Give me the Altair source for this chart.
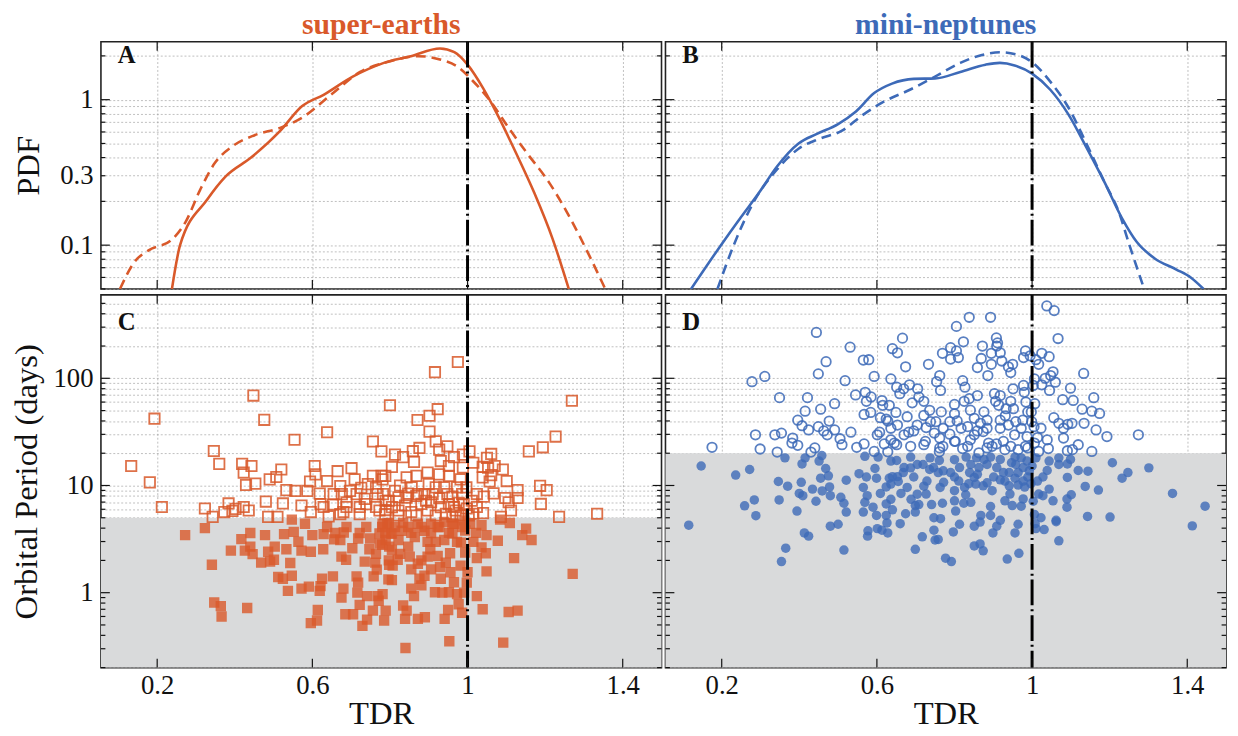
import altair as alt
import pandas as pd

ORANGE = "#D9592A"
BLUE = "#3D6AB8"
GRAY = "#D9DADB"
FONT = "Liberation Serif"

# ---------------- PDF curves (panel A: super-earths) ----------------
se_solid_tdr = [0.238, 0.259, 0.329, 0.376, 0.442, 0.517, 0.573, 0.629, 0.704, 0.779, 0.854, 0.929,
                0.966, 1.0, 1.04, 1.079, 1.125, 1.172, 1.219, 1.261]
se_solid_pdf = [0.05, 0.1, 0.206, 0.296, 0.40, 0.61, 0.90, 1.08, 1.44, 1.77, 1.99, 2.25,
                2.12, 1.74, 1.2, 0.77, 0.43, 0.229, 0.111, 0.05]
se_dash_tdr = [0.104, 0.142, 0.179, 0.236, 0.273, 0.311, 0.348, 0.395, 0.451, 0.517, 0.573, 0.648,
               0.723, 0.798, 0.873, 0.929, 0.975, 1.012, 1.059, 1.106, 1.153, 1.21, 1.266, 1.313, 1.355]
se_dash_pdf = [0.05, 0.077, 0.0925, 0.108, 0.144, 0.241, 0.365, 0.48, 0.57, 0.64, 0.75, 1.08,
               1.55, 1.83, 1.99, 1.89, 1.68, 1.36, 0.975, 0.64, 0.43, 0.27, 0.151, 0.0857, 0.05]

# ---------------- PDF curves (panel B: mini-neptunes) ----------------
mn_solid_tdr = [0.121, 0.198, 0.249, 0.296, 0.342, 0.398, 0.444, 0.5, 0.546, 0.593, 0.639, 0.695,
                0.750, 0.815, 0.880, 0.917, 0.955, 1.0, 1.047, 1.094, 1.140, 1.187, 1.233, 1.27,
                1.316, 1.372, 1.409, 1.442]
mn_solid_pdf = [0.05, 0.1, 0.155, 0.229, 0.346, 0.50, 0.58, 0.68, 0.83, 1.11, 1.29, 1.39,
                1.40, 1.55, 1.74, 1.79, 1.72, 1.51, 1.17, 0.79, 0.47, 0.27, 0.151, 0.105,
                0.081, 0.068, 0.06, 0.05]
mn_dash_tdr = [0.189, 0.231, 0.286, 0.342, 0.398, 0.453, 0.509, 0.565, 0.620, 0.685, 0.750, 0.815,
               0.871, 0.917, 0.964, 1.0, 1.047, 1.094, 1.140, 1.187, 1.224, 1.251, 1.289]
mn_dash_pdf = [0.05, 0.1, 0.206, 0.33, 0.46, 0.54, 0.61, 0.79, 0.975, 1.17, 1.44, 1.79,
               2.03, 2.12, 2.03, 1.81, 1.33, 0.88, 0.50, 0.27, 0.168, 0.1, 0.05]

# ---------------- Scatter (panel C: super-earths) ----------------
se_open = [
    (0.133, 15.2), (0.181, 10.7), (0.193, 42), (0.212, 6.3), (0.323, 6.1), (0.343, 5.1), (0.346, 21),
    (0.360, 15.9), (0.373, 5.65), (0.384, 6.8), (0.394, 5.8), (0.402, 6.05), (0.419, 15.9), (0.423, 13.2),
    (0.429, 10.1), (0.443, 15.2), (0.448, 69), (0.453, 10.4), (0.423, 6.3), (0.436, 5.85), (0.476, 41),
    (0.480, 7.08), (0.486, 5.1), (0.490, 11.4), (0.507, 12), (0.510, 5.1), (0.520, 14.1), (0.524, 6.8),
    (0.533, 9.05), (0.554, 26.7), (0.556, 8.9), (0.572, 6.5), (0.587, 8.9), (0.594, 10.9), (0.606, 15.2),
    (0.608, 12.7), (0.596, 5.65), (0.619, 8.4), (0.638, 31.4), (0.638, 11), (0.621, 6.7), (0.642, 5.15),
    (0.653, 6.64), (0.665, 13.6), (0.672, 9.9), (0.676, 8.3), (0.680, 5.65), (0.688, 6.97), (0.701, 14.5),
    (0.709, 11.4), (0.714, 8.3), (0.722, 6.3), (0.726, 9.5), (0.735, 7.5), (0.743, 10.3), (0.756, 25.7),
    (0.756, 12.3), (0.768, 8.3), (0.773, 5.85), (0.778, 20.8), (0.781, 11.4), (0.789, 7.2), (0.800, 56),
    (0.975, 142), (0.916, 114), (0.923, 51.5), (0.902, 44.7), (0.871, 40.8), (0.902, 31.8), (0.918, 25.8),
    (0.927, 21.6), (0.948, 23.2), (0.931, 16.9), (0.876, 22.4), (0.859, 20.9), (0.813, 19.4), (0.834, 18.4),
    (0.862, 16.6), (0.805, 14.9), (0.965, 18.4), (0.988, 19.4), (1.005, 20.8), (1.015, 16.3), (0.988, 14.7),
    (0.952, 15.2), (0.897, 13.2), (0.927, 12.7), (0.868, 12.3), (0.843, 11.9), (0.788, 12.3), (0.982, 11.4),
    (0.952, 12.3), (0.900, 10.3), (1.039, 14.9), (1.050, 18.1), (1.061, 19.7), (1.053, 14.7), (1.070, 15.2),
    (1.091, 14.1), (1.061, 12.5), (1.039, 11.9), (1.057, 10.9), (1.101, 11.0), (1.158, 20.8), (1.194, 22.7),
    (1.227, 28.6), (1.269, 61.8), (1.187, 9.93), (1.204, 9.06), (1.129, 9.06), (1.129, 7.64), (1.189, 6.73),
    (1.097, 7.64), (1.106, 6.97), (1.112, 5.85), (1.067, 8.44), (1.042, 7.87), (1.024, 8.32), (1.040, 5.52),
    (1.086, 5.1), (1.236, 5.1), (1.334, 5.45), (0.997, 9.6), (0.986, 8.3), (0.973, 9.6), (0.961, 7.87),
    (0.94, 9.6), (0.918, 9.6), (0.889, 8.3), (0.868, 8.0), (0.847, 8.4), (0.822, 7.76), (0.797, 7.2),
    (0.881, 6.73), (0.906, 6.97), (0.931, 6.28), (0.969, 5.85), (0.990, 6.73), (1.015, 5.45), (0.822, 5.85),
    (0.855, 5.65), (0.897, 5.85), (0.944, 5.45), (0.805, 6.28), (0.839, 6.5), (0.982, 5.26),
    (0.778, 12.3), (0.782, 8.3), (0.813, 8.9), (0.826, 10.0), (0.843, 7.7), (0.856, 9.6), (0.872, 8.3),
    (0.893, 7.2), (0.910, 8.3), (0.927, 7.6), (0.948, 8.3), (0.952, 6.7), (0.965, 6.3), (0.977, 6.9),
    (0.998, 6.1), (1.011, 7.2), (1.024, 6.3), (0.788, 5.4), (0.822, 5.25), (0.868, 5.25), (0.918, 5.25),
    (0.961, 5.15), (1.003, 5.26), (0.629, 6.3), (0.688, 6.3), (0.739, 6.7), (0.764, 6.3), (0.789, 5.9),
    (0.672, 5.4), (0.722, 5.4), (0.655, 8.3), (0.697, 8.9), (0.764, 9.5),
]
se_filled = [
    (0.272, 3.44), (0.323, 4.0), (0.341, 1.82), (0.347, 0.81), (0.364, 0.75), (0.366, 0.60), (0.390, 2.47),
    (0.417, 3.16), (0.426, 2.47), (0.432, 0.72), (0.440, 3.6), (0.440, 2.69), (0.446, 2.29), (0.468, 1.91),
    (0.478, 3.44), (0.486, 2.41), (0.491, 1.95), (0.503, 2.69), (0.501, 2.03), (0.512, 1.40), (0.524, 1.35),
    (0.527, 3.52), (0.533, 2.54), (0.537, 1.04), (0.543, 1.89), (0.547, 1.44), (0.547, 4.8), (0.552, 3.69),
    (0.564, 2.99), (0.572, 2.47), (0.572, 1.09), (0.581, 4.4), (0.591, 1.14), (0.596, 2.41), (0.596, 0.52),
    (0.600, 3.44), (0.612, 0.55), (0.614, 0.69), (0.619, 1.04), (0.621, 1.15), (0.625, 1.35), (0.628, 2.54),
    (0.629, 3.52), (0.653, 1.42), (0.656, 3.14), (0.659, 3.6), (0.675, 2.17), (0.675, 0.90), (0.680, 1.09),
    (0.681, 3.64), (0.687, 2.03), (0.685, 0.63), (0.705, 0.63), (0.703, 2.6), (0.714, 1.42), (0.716, 1.0),
    (0.718, 1.24), (0.718, 3.2), (0.722, 0.77), (0.729, 0.49), (0.735, 1.95), (0.741, 0.93), (0.741, 0.56),
    (0.747, 2.54), (0.749, 3.2), (0.756, 0.68), (0.758, 1.42), (0.762, 1.91), (0.766, 1.64), (0.768, 0.93),
    (0.771, 0.84), (0.773, 3.57), (0.774, 2.88), (0.781, 0.97), (0.785, 0.55), (0.789, 0.68), (0.793, 4.4),
    (0.796, 1.33), (0.798, 1.82), (0.798, 2.69), (0.802, 3.57),
    (0.840, 0.305), (0.953, 0.352), (1.092, 0.342), (1.039, 0.70), (1.106, 0.66), (1.129, 0.68), (1.271, 1.5),
    (1.120, 2.1), (1.049, 1.58), (1.024, 0.93), (0.998, 1.24), (1.0, 1.55), (1.078, 3.05), (1.141, 3.44),
    (1.165, 3.1), (1.151, 3.96), (1.109, 4.47), (1.084, 4.8), (1.049, 3.44), (1.036, 2.65), (1.047, 2.33),
    (1.024, 2.1), (1.015, 2.98), (1.036, 4.26), (1.022, 3.61), (0.994, 2.37), (0.982, 1.79), (0.983, 2.93),
    (0.986, 4.1), (0.966, 4.4), (0.973, 2.98), (0.955, 2.33), (0.956, 1.55), (0.944, 1.91), (0.952, 3.61),
    (0.940, 4.57), (0.923, 4.1), (0.918, 2.98), (0.904, 2.54), (0.897, 2.17), (0.929, 1.73), (0.916, 1.01),
    (0.935, 1.0), (0.952, 1.01), (0.973, 0.97), (0.991, 1.0), (0.977, 0.78), (0.986, 0.65), (0.950, 0.69),
    (0.941, 0.57), (0.890, 0.59), (0.872, 0.57), (0.839, 0.57), (0.843, 0.68), (0.834, 0.76), (0.855, 1.09),
    (0.862, 0.93), (0.881, 1.17), (0.876, 1.35), (0.889, 1.44), (0.872, 1.86), (0.851, 2.17), (0.820, 2.03),
    (0.807, 1.79), (0.805, 1.31), (0.847, 2.69), (0.805, 2.5), (0.897, 2.98), (0.889, 3.78), (0.855, 3.61),
    (0.830, 3.78), (0.805, 3.57), (0.797, 4.47), (0.834, 4.47), (0.872, 4.4), (0.906, 4.4), (0.961, 3.57),
    (0.992, 4.73),
    (0.780, 4.1), (0.788, 3.6), (0.813, 4.1), (0.822, 3.1), (0.847, 4.1), (0.864, 3.3), (0.881, 4.1),
    (0.906, 3.6), (0.927, 4.1), (0.940, 3.1), (0.961, 4.4), (0.994, 3.8), (1.007, 4.4), (0.780, 2.8),
    (0.797, 2.0), (0.826, 2.3), (0.855, 1.65), (0.881, 2.0), (0.906, 1.65), (0.931, 1.35), (0.965, 1.25),
    (0.923, 2.2), (0.638, 4.1), (0.688, 4.1), (0.739, 4.1), (0.781, 4.4), (0.672, 3.1), (0.722, 3.6),
    (0.764, 2.3), (0.789, 3.1),
]

# ---------------- Scatter (panel D: mini-neptunes) ----------------
mn_open = [
    (0.175, 22.7), (0.278, 93), (0.311, 104), (0.349, 66), (0.287, 29.7), (0.299, 21.9), (0.337, 29.7),
    (0.354, 30.8), (0.343, 20.5), (0.383, 27.7), (0.381, 24.9), (0.396, 23.7), (0.396, 40.7), (0.407, 36.1),
    (0.415, 49.3), (0.421, 66), (0.424, 33), (0.444, 268), (0.449, 110), (0.455, 51.5), (0.449, 35.4),
    (0.463, 32.3), (0.469, 143), (0.472, 29.7), (0.477, 39.9), (0.491, 58), (0.491, 33), (0.44, 22.4),
    (0.43, 20.5), (0.505, 27.3), (0.51, 24), (0.518, 95), (0.531, 195), (0.533, 31.4), (0.545, 70),
    (0.548, 22.7), (0.565, 148), (0.579, 149), (0.570, 74), (0.573, 61), (0.585, 67), (0.567, 46),
    (0.584, 48), (0.567, 24.4), (0.593, 104), (0.593, 20.8), (0.601, 29.7), (0.607, 31.4), (0.609, 42.9),
    (0.613, 62), (0.615, 56), (0.624, 41.7), (0.628, 39.9), (0.632, 56), (0.619, 24.4), (0.628, 20.6),
    (0.636, 98.6), (0.640, 189), (0.653, 173), (0.666, 237), (0.674, 128), (0.651, 82.6), (0.659, 71.8),
    (0.669, 79.8), (0.684, 86.9), (0.649, 48), (0.636, 26.7), (0.645, 24.9), (0.651, 24), (0.678, 43.8),
    (0.682, 31.4), (0.695, 32.3), (0.687, 23.2), (0.691, 59), (0.705, 79.8), (0.708, 67), (0.721, 61),
    (0.727, 34.7), (0.725, 25.8), (0.721, 45), (0.733, 135), (0.736, 50.3), (0.748, 30.8), (0.754, 93),
    (0.752, 39.4), (0.762, 106), (0.764, 77), (0.766, 48.6), (0.769, 171), (0.762, 27.7), (0.770, 23.2),
    (0.761, 20.6),
    (1.038, 473), (1.057, 428), (1.067, 235), (0.838, 371), (0.893, 371), (0.805, 305), (0.823, 219),
    (0.790, 193), (0.805, 180), (0.790, 151), (0.810, 156), (0.872, 200), (0.869, 153), (0.895, 171),
    (0.908, 238), (0.911, 214), (0.909, 200), (0.918, 173), (0.922, 145), (0.895, 135), (0.859, 126),
    (0.886, 106), (0.939, 128), (0.945, 113), (0.950, 135), (0.983, 180), (0.978, 156), (0.995, 162),
    (1.010, 149), (1.017, 135), (1.025, 171), (1.044, 159), (1.006, 98.6), (1.003, 85.8), (1.025, 86.9),
    (1.048, 106), (1.054, 115), (1.060, 91.9), (1.045, 77), (1.034, 100), (1.079, 63.2), (1.099, 80.9),
    (1.106, 62.2), (1.133, 111), (1.129, 51.5), (1.159, 65.9), (1.154, 49.3), (1.174, 47), (1.056, 42.9),
    (1.069, 38), (1.081, 34.2), (1.092, 37.2), (1.103, 38), (1.134, 38), (1.165, 33), (1.193, 28.6),
    (1.274, 29.7), (1.081, 27.7), (1.119, 24), (1.104, 21.6), (1.091, 21.1), (1.154, 20.8), (1.039, 26.7),
    (1.042, 22.1), (1.023, 34.2), (1.014, 28), (0.978, 85.8), (0.980, 74), (0.984, 60), (1.007, 58),
    (0.998, 48.6), (0.945, 61), (0.952, 52), (0.933, 52), (0.931, 44.7), (0.918, 40.7), (0.906, 61),
    (0.903, 71.8), (0.914, 56), (0.958, 39.4), (0.976, 40.7), (0.999, 39.4), (1.005, 35.4), (0.987, 28.6),
    (0.955, 29.7), (0.926, 25.8), (0.908, 24.4), (0.888, 24.9), (0.874, 31.8), (0.884, 40.7), (0.867, 38),
    (0.851, 42.3), (0.841, 50.4), (0.838, 64.6), (0.825, 61), (0.827, 82.6), (0.821, 95), (0.800, 57),
    (0.788, 39.4), (0.807, 40), (0.841, 26.7), (0.859, 32.3), (0.897, 23.2), (0.863, 20.2), (0.930, 21.6),
    (0.964, 21.6), (0.821, 22.1), (0.788, 30.1), (0.802, 25.8), (0.834, 35.4), (0.983, 23.2), (1.006, 24.9),
    (1.017, 20.8),
    (0.800, 46.6), (0.817, 34.2), (0.851, 29.7), (0.884, 34.2), (0.918, 34.2), (0.939, 36.6), (0.972, 34.2),
    (0.989, 48.6), (0.876, 48.6), (0.918, 69), (0.951, 79.8), (0.859, 69), (0.800, 25.8), (0.834, 23.2),
    (0.884, 22.4), (0.945, 23.2), (0.989, 22.4), (0.636, 34.2), (0.670, 29.7), (0.704, 36.6), (0.738, 39.4),
    (0.771, 34.2), (0.721, 24), (0.762, 22.4), (0.653, 36.6),
]
mn_filled = [
    (0.115, 4.26), (0.147, 15.2), (0.236, 12.5), (0.272, 14.1), (0.259, 6.46), (0.284, 7.33), (0.288, 5.23),
    (0.346, 10.9), (0.348, 7.33), (0.354, 1.95), (0.365, 2.6), (0.363, 18.1), (0.370, 9.86), (0.394, 5.77),
    (0.400, 8.44), (0.405, 10.7), (0.407, 15.9), (0.409, 8.03), (0.413, 3.61), (0.424, 3.37), (0.415, 18.1),
    (0.434, 9.25), (0.443, 7.13), (0.451, 16.9), (0.458, 19.0), (0.455, 11.7), (0.468, 14.4), (0.475, 12.3),
    (0.478, 9.7), (0.480, 8.03), (0.459, 8.9), (0.480, 4.17), (0.500, 4.35), (0.507, 7.76), (0.515, 6.83),
    (0.521, 11.2), (0.521, 5.65), (0.515, 2.5), (0.554, 12.9), (0.565, 9.59), (0.569, 18.7), (0.573, 12),
    (0.575, 8.03), (0.569, 6.97), (0.565, 5.65), (0.577, 3.78), (0.576, 3.37), (0.590, 6.28), (0.595, 14.4),
    (0.599, 11.7), (0.599, 5.26), (0.603, 18.4), (0.601, 3.96), (0.609, 8.44), (0.613, 3.83), (0.624, 9.7),
    (0.624, 6.73), (0.624, 5.26), (0.626, 4.47), (0.628, 3.61), (0.632, 11.7), (0.636, 7.43), (0.640, 12.1),
    (0.640, 5.93), (0.651, 17.1), (0.653, 12.1), (0.655, 10.9), (0.660, 4.4), (0.662, 8.44), (0.668, 13.2),
    (0.674, 5.45), (0.687, 18.4), (0.687, 14.6), (0.688, 7.43), (0.695, 12), (0.699, 6.5), (0.699, 5.65),
    (0.699, 2.54), (0.708, 6.64), (0.717, 3.32), (0.719, 15.7), (0.721, 9.86), (0.727, 8.32), (0.736, 14.1),
    (0.737, 18.1), (0.741, 6.64), (0.747, 5.0), (0.747, 3.83), (0.750, 3.1), (0.758, 3.14), (0.758, 13.2),
    (0.761, 17.1), (0.764, 4.9), (0.769, 6.83), (0.772, 10.7), (0.777, 2.1),
    (1.207, 16.3), (1.247, 13.2), (1.232, 11.7), (1.301, 14.6), (1.362, 8.44), (1.446, 6.41), (1.413, 4.2),
    (1.201, 5.07), (1.171, 9.06), (1.143, 5.15), (1.144, 13.6), (1.119, 13.8), (1.137, 9.8), (1.101, 8.2),
    (1.090, 7.48), (1.090, 6.28), (1.091, 11.9), (1.069, 18.1), (1.069, 15.7), (1.091, 15.9), (1.099, 17.5),
    (1.044, 16.9), (1.039, 13.8), (1.028, 12), (1.014, 11), (1.044, 9.25), (1.028, 8.03), (1.017, 8.32),
    (1.054, 7.2), (1.003, 7.13), (1.006, 5.37), (1.023, 5.0), (1.062, 4.73), (1.062, 4.6), (1.008, 4.4),
    (1.010, 3.96), (1.031, 3.88), (1.069, 3.05), (0.966, 2.33), (0.936, 2.06), (0.972, 6.41), (0.956, 3.61),
    (0.964, 4.35), (0.949, 6.5), (0.943, 8.32), (0.930, 7.2), (0.918, 4.73), (0.909, 4.17), (0.899, 3.61),
    (0.893, 5.26), (0.893, 6.37), (0.897, 8.94), (0.874, 2.46), (0.866, 2.85), (0.851, 2.73), (0.868, 5.26),
    (0.866, 4.56), (0.851, 4.17), (0.842, 6.97), (0.829, 8.2), (0.824, 6.83), (0.803, 5.77), (0.813, 4.35),
    (0.797, 3.69), (0.792, 1.95), (0.800, 8.94), (0.811, 11), (0.800, 12), (0.790, 13.2), (0.813, 14.7),
    (0.830, 18.4), (0.857, 18.1), (0.863, 14.7), (0.859, 12.7), (0.855, 10.3), (0.874, 9.93), (0.837, 10.4),
    (0.884, 15.7), (0.901, 12), (0.918, 17.5), (0.926, 13.2), (0.930, 11), (0.941, 9.93), (0.941, 13.2),
    (0.958, 15.7), (0.964, 13.2), (0.977, 14.7), (0.987, 16.9), (0.989, 12), (0.964, 10.1), (0.981, 9.66),
    (0.997, 10.4), (1.0, 15.2), (0.977, 7.5), (0.956, 18.4), (1.010, 18.1), (0.839, 13.2), (0.893, 18.4),
    (0.800, 17.4), (0.842, 15.7), (0.876, 17.5), (0.909, 14.7), (0.947, 16.3), (0.972, 18.1), (0.993, 13.7),
    (0.851, 11.9), (0.884, 10.6), (0.918, 11.3), (0.956, 11.7), (0.977, 11.0), (0.826, 9.6), (0.800, 7.2),
    (0.636, 16.9), (0.670, 14.7), (0.704, 15.7), (0.746, 14.7), (0.771, 13.7), (0.636, 10.3), (0.678, 9.6),
    (0.729, 11.0), (0.763, 9.6), (0.704, 8.3),
]

# Period thresholds for the shaded (grey) region
se_cut = 5
mn_cut = 20

# ---------------- tick / grid values ----------------
top_major = [0.1, 1]
top_minor = [0.05, 0.06, 0.07, 0.08, 0.09, 0.2, 0.3, 0.4, 0.5, 0.6, 0.7, 0.8, 0.9, 2]
bot_major = [1, 10, 100]
bot_minor = [0.2, 0.3, 0.4, 0.5, 0.6, 0.7, 0.8, 0.9, 2, 3, 4, 5, 6, 7, 8, 9,
             20, 30, 40, 50, 60, 70, 80, 90, 200, 300, 400, 500]
x_vals = [0.2, 0.6, 1.0, 1.4]

# ---------------- layout / scales ----------------
W = 567
H_TOP = 250
H_BOT = 377
MAJ = 9
MIN = 4.5

xs = alt.Scale(domain=[0.055, 1.5], nice=False, zero=False)
ys_top = alt.Scale(type="log", domain=[0.05, 2.5], nice=False)
ys_bot = alt.Scale(type="log", domain=[0.2, 600], nice=False)

GRID = dict(grid=True, gridColor="#9a9a9a", gridDash=[2, 2], gridWidth=0.8, gridOpacity=0.8,
            domain=False, ticks=False)

x_axis_bottom = alt.Axis(values=x_vals, title="TDR", labelPadding=5, titlePadding=0,
                         labelExpr="datum.value == 1 ? '1' : format(datum.value, '.1f')", **GRID)
x_axis_none = alt.Axis(values=x_vals, labels=False, title=None, **GRID)

top_all = sorted(top_major + top_minor)
bot_all = sorted(bot_major + bot_minor)
y_axis_top_left = alt.Axis(values=top_all, title="PDF", labelPadding=8, titlePadding=14,
                           labelExpr="datum.value == 0.1 ? '0.1' : datum.value == 0.3 ? '0.3' : datum.value == 1 ? '1' : ''",
                           **GRID)
y_axis_bot_left = alt.Axis(values=bot_all, title="Orbital Period (days)", labelPadding=8, titlePadding=10,
                           labelExpr="datum.value == 1 ? '1' : datum.value == 10 ? '10' : datum.value == 100 ? '100' : ''",
                           **GRID)
y_axis_top_none = alt.Axis(values=top_all, labels=False, title=None, **GRID)
y_axis_bot_none = alt.Axis(values=bot_all, labels=False, title=None, **GRID)


def tick_layers(ys, yaxis, xaxis, majors, minors, height):
    """Inward ticks on all four edges, placed through the chart's scales."""
    layers = []
    rule = dict(color="#111", strokeWidth=1.2)
    for vals, ln in ((majors, MAJ), (minors, MIN)):
        d = pd.DataFrame({"v": vals})
        yenc = alt.Y("v:Q", scale=ys, axis=yaxis)
        layers.append(alt.Chart(d).mark_rule(**rule).encode(y=yenc, x=alt.value(0), x2=alt.value(ln)))
        layers.append(alt.Chart(d).mark_rule(**rule).encode(y=yenc, x=alt.value(W), x2=alt.value(W - ln)))
    dx = pd.DataFrame({"v": x_vals})
    xenc = alt.X("v:Q", scale=xs, axis=xaxis)
    layers.append(alt.Chart(dx).mark_rule(**rule).encode(x=xenc, y=alt.value(height), y2=alt.value(height - MAJ)))
    layers.append(alt.Chart(dx).mark_rule(**rule).encode(x=xenc, y=alt.value(0), y2=alt.value(MAJ)))
    return layers


def vline(xaxis, height):
    df = pd.DataFrame({"x": [1.0]})
    return alt.Chart(df).mark_rule(color="black", strokeWidth=3, strokeDash=[26, 4, 2, 4]).encode(
        x=alt.X("x:Q", scale=xs, axis=xaxis),
        y=alt.value(0), y2=alt.value(height),
    )


def letter(ch, ypix):
    df = pd.DataFrame({"t": [ch]})
    return alt.Chart(df).mark_text(font=FONT, fontSize=25, fontWeight="bold", color="#111",
                                   align="left", baseline="middle").encode(
        x=alt.value(17), y=alt.value(ypix), text="t:N")


def pdf_panel(solid_x, solid_y, dash_x, dash_y, color, yaxis, ch, title):
    d_solid = pd.DataFrame({"tdr": solid_x, "pdf": solid_y})
    d_dash = pd.DataFrame({"tdr": dash_x, "pdf": dash_y})
    enc = dict(x=alt.X("tdr:Q", scale=xs, axis=x_axis_none),
               y=alt.Y("pdf:Q", scale=ys_top, axis=yaxis))
    solid = alt.Chart(d_solid).mark_line(color=color, strokeWidth=2.6, interpolate="monotone",
                                         clip=True).encode(**enc)
    dash = alt.Chart(d_dash).mark_line(color=color, strokeWidth=2.6, strokeDash=[10, 6],
                                       interpolate="monotone", clip=True).encode(**enc)
    layers = [dash, solid, vline(x_axis_none, H_TOP), letter(ch, 13)]
    layers += tick_layers(ys_top, yaxis, x_axis_none, top_major, top_minor, H_TOP)
    return alt.layer(*layers).properties(
        width=W, height=H_TOP,
        title=alt.TitleParams(title, color=color, font=FONT, fontSize=30, fontWeight="bold",
                              anchor="middle", offset=0))


def scatter_panel(open_pts, filled_pts, cut, color, shape, size, yaxis, ch):
    d_open = pd.DataFrame(open_pts, columns=["tdr", "period"])
    d_fill = pd.DataFrame(filled_pts, columns=["tdr", "period"])
    d_band = pd.DataFrame({"lo": [0.2], "hi": [cut]})
    xe = alt.X("tdr:Q", scale=xs, axis=x_axis_bottom)
    ye = alt.Y("period:Q", scale=ys_bot, axis=yaxis)
    band = alt.Chart(d_band).mark_rect(color=GRAY).encode(
        x=alt.value(0), x2=alt.value(W),
        y=alt.Y("hi:Q", scale=ys_bot, axis=yaxis), y2="lo:Q")
    filled = alt.Chart(d_fill).mark_point(shape=shape, filled=True, size=size, color=color,
                                          opacity=0.8, clip=True).encode(x=xe, y=ye)
    opn = alt.Chart(d_open).mark_point(shape=shape, filled=False, size=size, color=color,
                                       strokeWidth=1.8, opacity=0.85, clip=True).encode(x=xe, y=ye)
    layers = [band, filled, opn, vline(x_axis_bottom, H_BOT), letter(ch, 28)]
    layers += tick_layers(ys_bot, yaxis, x_axis_bottom, bot_major, bot_minor, H_BOT)
    return alt.layer(*layers).properties(width=W, height=H_BOT)


A = pdf_panel(se_solid_tdr, se_solid_pdf, se_dash_tdr, se_dash_pdf, ORANGE, y_axis_top_left, "A",
              "super-earths")
B = pdf_panel(mn_solid_tdr, mn_solid_pdf, mn_dash_tdr, mn_dash_pdf, BLUE, y_axis_top_none, "B",
              "mini-neptunes")
C = scatter_panel(se_open, se_filled, se_cut, ORANGE, "square", 110, y_axis_bot_left, "C")
D = scatter_panel(mn_open, mn_filled, mn_cut, BLUE, "circle", 92, y_axis_bot_none, "D")

top = alt.hconcat(A, B, spacing=0).resolve_scale(x="independent", y="independent")
bottom = alt.hconcat(C, D, spacing=0).resolve_scale(x="independent", y="independent")

chart = alt.vconcat(top, bottom, spacing=0).resolve_scale(
    x="independent", y="independent"
).properties(
    padding={"left": 1, "top": -3, "right": 2, "bottom": 0}
).configure_view(
    stroke="#222", strokeWidth=1.6
).configure_axis(
    labelFont=FONT, titleFont=FONT, labelFontSize=27, titleFontSize=33,
    titleFontWeight="normal", labelColor="#111", titleColor="#111"
).configure_concat(spacing=0)

chart.save("out.html", embed_options={"renderer": "svg", "actions": False})
